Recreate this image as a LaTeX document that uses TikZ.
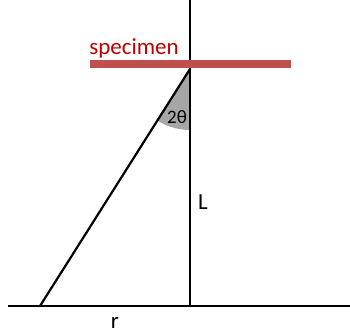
\documentclass[tikz,border=0pt]{standalone}
\usepackage{fontspec}
\setmainfont{Carlito}
\definecolor{barred}{HTML}{C0504D}
\definecolor{textred}{HTML}{C00000}
\definecolor{wedgegray}{HTML}{A6A6A6}
\begin{document}
\begin{tikzpicture}[x=1pt,y=1pt,line cap=butt,line join=round,
    axis/.style={line width=2.2pt},
    lbl/.style={font=\fontsize{23}{25}\selectfont,inner sep=0pt},
    small/.style={font=\fontsize{19}{21}\selectfont,inner sep=0pt}]
    \useasboundingbox (0,0) rectangle (350,334);
    % fixed points of the geometry
    \coordinate (top) at (190,334);
    \coordinate (apex) at (190,265);
    \coordinate (foot) at (190,28);
    \coordinate (left) at (8,28);
    \coordinate (right) at (350,28);
    \coordinate (spot) at (40,28);

    % the 2theta wedge under the sample
    \fill[wedgegray] (apex) -- ++(-90:61) arc[start angle=-90,end angle=-122.3,radius=61] -- cycle;

    \draw[axis] (top) -- (foot);
    \draw[axis] (left) -- (right);
    \draw[axis] (apex) -- (spot);

    % specimen bar
    \coordinate (barL) at (90,270);
    \coordinate (barR) at (291,270);
    \draw[barred,line width=8pt] (barL) -- (barR);
    \node[lbl,textred] (spec) at (134,286) {specimen};

    \node[small] (ang) at (177,217) {2θ};
    \node[lbl] (len) at (203,132) {L};
    \node[lbl] (rad) at (115,11) {r};
\end{tikzpicture}
\end{document}
